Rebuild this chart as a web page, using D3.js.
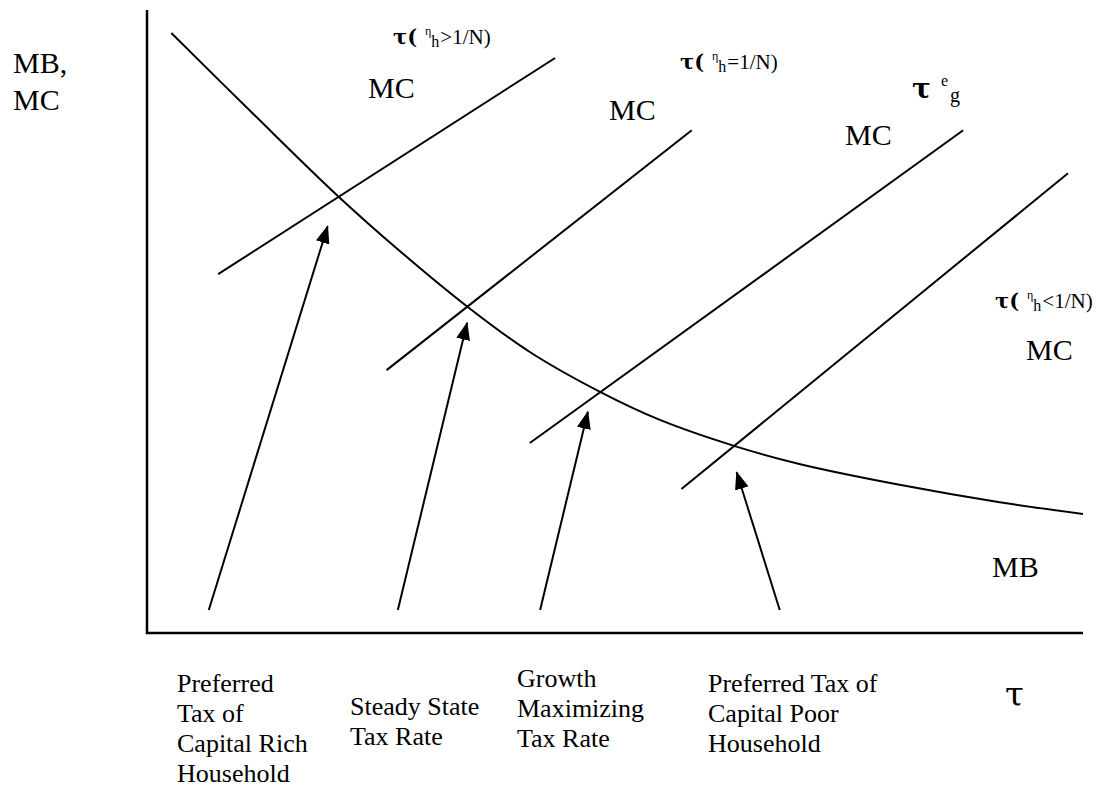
<!DOCTYPE html>
<html>
<head>
<meta charset="utf-8">
<script src="https://cdn.jsdelivr.net/npm/d3@7"></script>
<style>
  html, body { margin: 0; padding: 0; background: #fff; }
  svg { display: block; }
  text { font-family: "Liberation Serif", "Times New Roman", serif; fill: #000; }
</style>
</head>
<body>
<svg id="chart"></svg>
<script>
// Marginal benefit curve (tau on x, value on y, both on a 0-100 scale)
const mbTau = [2.6, 11.5, 20.5, 27.1, 34.3, 40.9, 48.4, 54.8, 62.8, 69.8, 80.4, 91.1, 100];
const mbVal = [96.3, 83.1, 70.0, 61.2, 52.3, 45.1, 38.7, 34.2, 30.0, 27.1, 23.8, 21.0, 19.1];

// Marginal cost lines: [tau0, val0, tau1, val1]
const mcLines = [
  [7.6, 57.6, 43.6, 92.3],
  [25.6, 42.2, 58.2, 80.7],
  [40.9, 30.5, 87.2, 80.7],
  [57.1, 23.1, 98.4, 73.8]
];

// Arrows from label up to the intersection: [tau0, val0, tau1, val1]
const arrows = [
  [6.6, 3.7, 19.3, 65.3],
  [26.8, 3.7, 34.2, 49.8],
  [42.0, 3.7, 47.1, 35.5],
  [67.6, 3.7, 63.0, 25.8]
];

// Bottom labels, one per arrow
const bottomLabels = [
  ["Preferred", "Tax of", "Capital Rich", "Household"],
  ["Steady State", "Tax Rate"],
  ["Growth", "Maximizing", "Tax Rate"],
  ["Preferred Tax of", "Capital Poor", "Household"]
];

// Relation shown in each tau(eta_h ...) label
const tauRelations = [">1/N)", "=1/N)", null, "<1/N)"];

const width = 1099;
const height = 791;

const svg = d3.select("#chart").attr("width", width).attr("height", height);

// Scales: plot area pinned to the axes
const x = d3.scaleLinear().domain([0, 100]).range([147, 1083]);
const y = d3.scaleLinear().domain([0, 100]).range([633, 10]);

// Arrowhead marker
svg.append("defs").append("marker")
  .attr("id", "head")
  .attr("markerUnits", "userSpaceOnUse")
  .attr("viewBox", "0 0 18 14")
  .attr("refX", 17)
  .attr("refY", 7)
  .attr("markerWidth", 18)
  .attr("markerHeight", 14)
  .attr("orient", "auto")
  .append("path")
  .attr("d", "M0,0 L18,7 L0,14 Z")
  .attr("fill", "#000");

// Axes (plain lines, no ticks)
svg.append("path")
  .attr("d", `M${x(0)},${y(100)} L${x(0)},${y(0)} L${x(100)},${y(0)}`)
  .attr("fill", "none")
  .attr("stroke", "#000")
  .attr("stroke-width", 2.5);

// MB curve
const mbLine = d3.line()
  .x(d => x(d[0]))
  .y(d => y(d[1]))
  .curve(d3.curveCatmullRom);

svg.append("path")
  .datum(d3.zip(mbTau, mbVal))
  .attr("d", mbLine)
  .attr("fill", "none")
  .attr("stroke", "#000")
  .attr("stroke-width", 2);

// MC lines
svg.selectAll(".mc")
  .data(mcLines)
  .enter()
  .append("line")
  .attr("class", "mc")
  .attr("x1", d => x(d[0]))
  .attr("y1", d => y(d[1]))
  .attr("x2", d => x(d[2]))
  .attr("y2", d => y(d[3]))
  .attr("stroke", "#000")
  .attr("stroke-width", 2);

// Arrows
svg.selectAll(".arrow")
  .data(arrows)
  .enter()
  .append("line")
  .attr("class", "arrow")
  .attr("x1", d => x(d[0]))
  .attr("y1", d => y(d[1]))
  .attr("x2", d => x(d[2]))
  .attr("y2", d => y(d[3]))
  .attr("stroke", "#000")
  .attr("stroke-width", 2)
  .attr("marker-end", "url(#head)");

// Axis titles
const yTitle = svg.append("text").attr("x", 13).attr("y", 73).style("font-size", "30px");
yTitle.append("tspan").text("MB,");
yTitle.append("tspan").attr("x", 13).attr("dy", 37).text("MC");

svg.append("text").attr("x", 1005).attr("y", 706)
  .style("font-family", "'DejaVu Serif', serif")
  .style("font-size", "34px")
  .text("τ");

svg.append("text").attr("x", 992).attr("y", 577).style("font-size", "30px").text("MB");

// MC labels
const mcPos = [[368, 98], [609, 120], [845, 145], [1026, 360]];
svg.selectAll(".mclabel")
  .data(mcPos)
  .enter()
  .append("text")
  .attr("class", "mclabel")
  .attr("x", d => d[0])
  .attr("y", d => d[1])
  .style("font-size", "30px")
  .text("MC");

// tau(eta_h ...) labels
const tauPos = [[393, 44], [680, 69], null, [995, 308]];
tauRelations.forEach((rel, i) => {
  if (!rel) return;
  const t = svg.append("text").attr("x", tauPos[i][0]).attr("y", tauPos[i][1]).style("font-size", "21px");
  t.append("tspan").style("font-family", "'DejaVu Serif', serif").style("font-weight", "bold").text("τ(");
  t.append("tspan").attr("dx", 8).attr("dy", -9).style("font-size", "12px").text("η");
  t.append("tspan").attr("dy", 12).style("font-size", "16px").text("h");
  t.append("tspan").attr("dx", 1).attr("dy", -3).text(rel);
});

// Growth-maximising tax label: tau with e superscript, g subscript
const tg = svg.append("text").attr("x", 912).attr("y", 98).style("font-size", "28px");
tg.append("tspan").style("font-family", "'DejaVu Serif', serif").style("font-weight", "bold").text("τ");
tg.append("tspan").attr("x", 941).attr("dy", -12).style("font-size", "16px").text("e");
tg.append("tspan").attr("x", 950).attr("dy", 16).style("font-size", "20px").text("g");

// Bottom labels
const bottomPos = [[177, 692], [350, 715], [517, 687], [708, 692]];
bottomLabels.forEach((lines, i) => {
  const t = svg.append("text")
    .attr("x", bottomPos[i][0])
    .attr("y", bottomPos[i][1])
    .style("font-size", "26px");
  lines.forEach((s, j) => {
    t.append("tspan").attr("x", bottomPos[i][0]).attr("dy", j === 0 ? 0 : 30).text(s);
  });
});
</script>
</body>
</html>
